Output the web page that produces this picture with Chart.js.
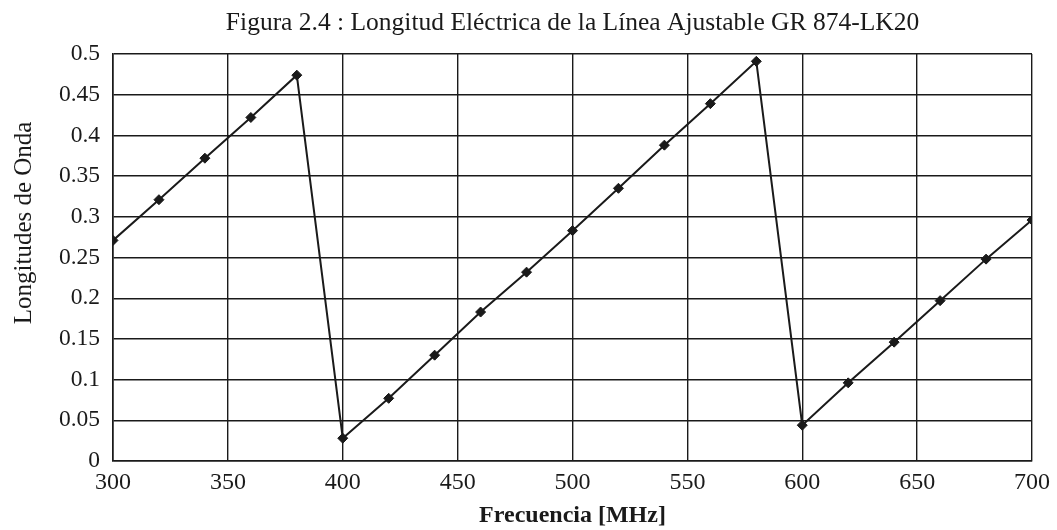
<!DOCTYPE html>
<html lang="es">
<head>
<meta charset="utf-8">
<title>Longitud Eléctrica de la Línea Ajustable GR 874-LK20</title>
<script src="https://cdn.jsdelivr.net/npm/chart.js@4/dist/chart.umd.min.js"></script>
<style>
  html, body { margin: 0; padding: 0; background: #ffffff; }
  #wrap { width: 1057px; height: 530px; }
</style>
</head>
<body>
<div id="wrap"><canvas id="chart" width="1057" height="530"></canvas></div>
<script>
// Frecuencia de medición [MHz]
const freqMHz = [300, 320, 340, 360, 380, 400, 420, 440, 460, 480, 500,
                 520, 540, 560, 580, 600, 620, 640, 660, 680, 700];
// Longitud eléctrica medida, en longitudes de onda
const wavelengths = [0.271, 0.321, 0.372, 0.422, 0.474,
                     0.028, 0.077, 0.130, 0.183, 0.232, 0.283, 0.335, 0.388, 0.439, 0.491,
                     0.044, 0.096, 0.146, 0.197, 0.248, 0.296];
// Rótulos de los ejes
const xTickLabels = ['300', '350', '400', '450', '500', '550', '600', '650', '700'];
const yTickLabels = ['0', '0.05', '0.1', '0.15', '0.2', '0.25', '0.3', '0.35', '0.4', '0.45', '0.5'];

const chartTitle = 'Figura 2.4 : Longitud Eléctrica de la Línea Ajustable GR 874-LK20';
const xTitle = 'Frecuencia [MHz]';
const yTitle = 'Longitudes de Onda';

const points = freqMHz.map((f, i) => ({ x: f, y: wavelengths[i] }));
const serif = "'Liberation Serif', 'Times New Roman', serif";
const ink = '#1a1a1a';

// Vertical axis title, placed a little above the middle of the plot area
const yTitlePlugin = {
  id: 'yTitleText',
  afterDraw(chart) {
    const { ctx, chartArea } = chart;
    const cy = chartArea.top + (chartArea.bottom - chartArea.top) * 0.415;
    ctx.save();
    ctx.translate(24, cy);
    ctx.rotate(-Math.PI / 2);
    ctx.fillStyle = ink;
    ctx.font = `normal 25px ${serif}`;
    ctx.textAlign = 'center';
    ctx.textBaseline = 'middle';
    ctx.fillText(yTitle, 0, 0);
    ctx.restore();
  }
};

new Chart(document.getElementById('chart'), {
  type: 'line',
  data: {
    datasets: [{
      data: points,
      borderColor: ink,
      backgroundColor: ink,
      borderWidth: 2,
      tension: 0,
      pointStyle: 'rectRot',
      pointRadius: 5,
      pointBorderWidth: 1,
      pointBackgroundColor: ink,
      pointBorderColor: ink,
      fill: false
    }]
  },
  options: {
    responsive: false,
    animation: false,
    devicePixelRatio: 1,
    layout: { padding: { left: 0, right: 22, top: 0, bottom: 0 } },
    plugins: {
      legend: { display: false },
      tooltip: { enabled: false },
      title: {
        display: true,
        fullSize: false,
        text: chartTitle,
        color: ink,
        font: { family: serif, size: 25.5, weight: 'normal', lineHeight: 1.2 },
        padding: { top: 8, bottom: 15.4 }
      }
    },
    scales: {
      x: {
        type: 'linear',
        min: 300,
        max: 700,
        afterFit: (s) => { s.height = 69; },
        afterBuildTicks: (s) => {
          s.ticks = xTickLabels.map(Number).map(v => ({ value: v }));
        },
        ticks: {
          color: ink,
          padding: 7,
          maxRotation: 0,
          font: { family: serif, size: 24 },
          callback: (v, i) => xTickLabels[i]
        },
        grid: { color: ink, lineWidth: 1.4, drawTicks: false },
        border: { color: ink, width: 1.6 },
        title: {
          display: true,
          text: xTitle,
          color: ink,
          font: { family: serif, size: 24, weight: 'bold', lineHeight: 1.2 },
          padding: { top: 0, bottom: 0 }
        }
      },
      y: {
        type: 'linear',
        min: 0,
        max: 0.5,
        afterFit: (s) => { s.width = 113; },
        afterBuildTicks: (s) => {
          s.ticks = yTickLabels.map(Number).map(v => ({ value: v }));
        },
        ticks: {
          color: ink,
          padding: 13,
          font: { family: serif, size: 23.5 },
          callback: (v, i) => yTickLabels[i]
        },
        grid: { color: ink, lineWidth: 1.4, drawTicks: false },
        border: { color: ink, width: 1.6 },
        title: { display: false }
      }
    }
  },
  plugins: [yTitlePlugin]
});
</script>
</body>
</html>
